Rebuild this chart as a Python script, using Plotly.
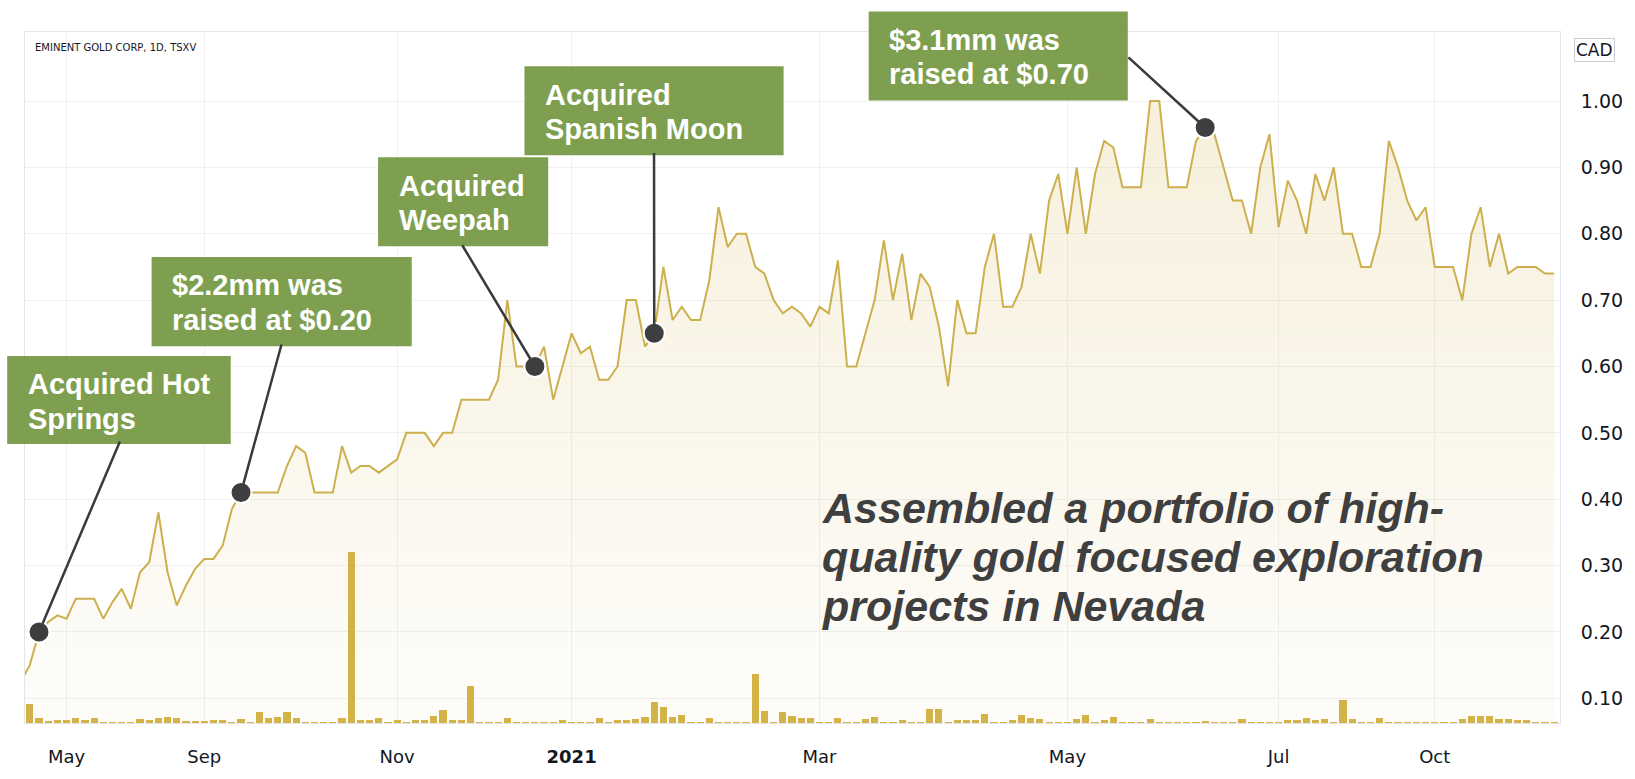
import plotly.graph_objects as go

# ---------------- data ----------------
price = [
    0.125, 0.15, 0.20, 0.215, 0.225, 0.22, 0.25, 0.25, 0.25, 0.22,
    0.245, 0.265, 0.235, 0.29, 0.305, 0.38, 0.29, 0.24, 0.27, 0.295,
    0.31, 0.31, 0.33, 0.385, 0.41, 0.41, 0.41, 0.41, 0.41, 0.45,
    0.48, 0.47, 0.41, 0.41, 0.41, 0.48, 0.44, 0.45, 0.45, 0.44,
    0.45, 0.46, 0.50, 0.50, 0.50, 0.48, 0.50, 0.50, 0.55, 0.55,
    0.55, 0.55, 0.58, 0.70, 0.60, 0.60, 0.60, 0.63, 0.55, 0.60,
    0.65, 0.62, 0.63, 0.58, 0.58, 0.60, 0.70, 0.70, 0.63, 0.65,
    0.75, 0.67, 0.69, 0.67, 0.67, 0.73, 0.84, 0.78, 0.80, 0.80,
    0.75, 0.74, 0.70, 0.68, 0.69, 0.68, 0.66, 0.69, 0.68, 0.76,
    0.60, 0.60, 0.65, 0.70, 0.79, 0.70, 0.77, 0.67, 0.74, 0.72,
    0.66, 0.57, 0.70, 0.65, 0.65, 0.75, 0.80, 0.69, 0.69, 0.72,
    0.80, 0.74, 0.85, 0.89, 0.80, 0.90, 0.80, 0.89, 0.94, 0.93,
    0.87, 0.87, 0.87, 1.00, 1.00, 0.87, 0.87, 0.87, 0.94, 0.96,
    0.95, 0.90, 0.85, 0.85, 0.80, 0.90, 0.95, 0.81, 0.88, 0.85,
    0.80, 0.89, 0.85, 0.90, 0.80, 0.80, 0.75, 0.75, 0.80, 0.94,
    0.90, 0.85, 0.82, 0.84, 0.75, 0.75, 0.75, 0.70, 0.80, 0.84,
    0.75, 0.80, 0.74, 0.75, 0.75, 0.75, 0.74, 0.74,
]

volume_k = [
    50, 190, 50, 20, 30, 30, 50, 30, 50, 10,
    10, 10, 10, 40, 30, 50, 60, 50, 15, 15,
    15, 30, 30, 10, 40, 10, 110, 50, 60, 110,
    50, 10, 10, 10, 10, 50, 1750, 30, 30, 50,
    10, 30, 10, 30, 30, 70, 130, 30, 30, 380,
    10, 10, 10, 50, 10, 10, 10, 10, 10, 30,
    10, 10, 10, 50, 10, 30, 30, 40, 60, 210,
    160, 60, 80, 10, 10, 50, 10, 10, 10, 10,
    500, 120, 10, 110, 70, 50, 50, 10, 10, 50,
    10, 10, 40, 60, 10, 10, 30, 10, 10, 140,
    140, 10, 30, 30, 30, 90, 10, 10, 30, 80,
    50, 40, 10, 10, 10, 40, 80, 10, 30, 60,
    10, 10, 10, 40, 10, 10, 10, 10, 10, 20,
    10, 10, 10, 40, 10, 10, 10, 10, 30, 30,
    50, 30, 40, 10, 240, 40, 10, 10, 50, 10,
    10, 10, 10, 10, 10, 10, 10, 40, 70, 70,
    70, 40, 40, 30, 30, 10, 10, 10,
]

tick_index = [5, 20, 41, 60, 87, 114, 137, 154]
tick_labels = ["May", "Sep", "Nov", "<b>2021</b>", "Mar", "May", "Jul", "Oct"]

price_ticks = [0.10, 0.20, 0.30, 0.40, 0.50, 0.60, 0.70, 0.80, 0.90, 1.00]

event_index = [2, 24, 56, 69, 129]
event_lines = [
    ["Acquired Hot", "Springs"],
    ["$2.2mm was", "raised at $0.20"],
    ["Acquired", "Weepah"],
    ["Acquired", "Spanish Moon"],
    ["$3.1mm was", "raised at $0.70"],
]

summary_lines = [
    "Assembled a portfolio of high-",
    "quality gold focused exploration",
    "projects in Nevada",
]

title_text = "EMINENT GOLD CORP, 1D, TSXV"

# ---------------- layout geometry (pixels) ----------------
W, H = 1635, 779
L, R, T, B = 25, 58, 32, 41
PW, PH = W - L - R, H - T - B


def px(x):
    return (x - L) / PW


def py(y):
    return (H - B - y) / PH


idx = list(range(len(price)))
LINE = "#CDB04E"
BAR = "#D4B346"
GREEN = "#7E9F4F"
DARK = "#3E3E40"
TXT = "#131722"
GRID = "#F0F0F0"

fig = go.Figure()
fig.add_trace(go.Scatter(
    x=idx, y=price, mode="lines",
    line=dict(color=LINE, width=2),
    fill="tozeroy",
    fillgradient=dict(type="vertical", start=0.06, stop=1.0,
                      colorscale=[[0, "rgba(214,186,96,0.03)"],
                                  [1, "rgba(214,186,96,0.22)"]]),
    hoverinfo="skip", showlegend=False,
))
fig.add_trace(go.Bar(
    x=idx, y=volume_k, yaxis="y2", width=0.78,
    marker=dict(color=BAR, line=dict(width=0)),
    hoverinfo="skip", showlegend=False,
))
fig.add_trace(go.Scatter(
    x=event_index, y=[price[i] for i in event_index], mode="markers",
    marker=dict(size=21, color=DARK, line=dict(color="white", width=2)),
    hoverinfo="skip", showlegend=False,
))

# boxes (pixel rectangles) and connector tails
boxes = [
    (7, 363, 233, 453),
    (153, 262, 416, 353),
    (382, 160, 554, 251),
    (530, 67, 792, 158),
    (878, 11, 1140, 102),
]
tails = [(120.7, 453), (284.3, 353), (467, 251), (661, 158), (1140, 58)]

x_lo, x_hi = 0.474, 167.64
y_lo, y_hi = 0.0628, 1.104


def data_px(i, v):
    xp = L + (i - x_lo) / (x_hi - x_lo) * PW
    yp = T + (y_hi - v) / (y_hi - y_lo) * PH
    return xp, yp


shapes = []
annotations = []
for (x0, y0, x1, y1), lines, ei, (tx, ty) in zip(boxes, event_lines, event_index, tails):
    shapes.append(dict(type="rect", xref="paper", yref="paper",
                       x0=px(x0), x1=px(x1), y0=py(y1), y1=py(y0),
                       fillcolor=GREEN, line=dict(width=0), layer="above"))
    for j, t in enumerate(lines):
        annotations.append(dict(
            xref="paper", yref="paper", x=px(x0 + 19), y=py(y0 + 29 + 35 * j),
            xanchor="left", yanchor="middle", showarrow=False, text=t,
            font=dict(family="Liberation Sans", size=29, color="white", weight="bold"),
        ))
    dx, dy = data_px(ei, price[ei])
    annotations.append(dict(
        x=ei, y=price[ei], xref="x", yref="y", text="", showarrow=True,
        arrowhead=0, arrowwidth=2.5, arrowcolor="#3A3A3C",
        ax=tx - dx, ay=ty - dy, standoff=9,
    ))

for j, t in enumerate(summary_lines):
    annotations.append(dict(
        xref="paper", yref="paper", x=px(829), y=py(518 + 50 * j),
        xanchor="left", yanchor="middle", showarrow=False,
        text="<b><i>" + t + "</i></b>",
        font=dict(family="Liberation Sans", size=43, color="#3F3F3F"),
    ))

annotations.append(dict(
    xref="paper", yref="paper", x=px(33), y=py(48), xanchor="left", yanchor="middle",
    showarrow=False, text=title_text,
    font=dict(family="DejaVu Sans", size=10, color=TXT),
))
annotations.append(dict(
    xref="paper", yref="paper", x=px(1591), y=py(50), xanchor="left", yanchor="middle",
    showarrow=False, text="CAD", bordercolor="#C8CBD3", borderwidth=1, borderpad=1,
    bgcolor="white", font=dict(family="DejaVu Sans", size=17, color=TXT),
))

fig.update_layout(
    width=W, height=H,
    margin=dict(l=L, r=R, t=T, b=B),
    paper_bgcolor="white", plot_bgcolor="white",
    showlegend=False,
    bargap=0,
    xaxis=dict(range=[x_lo, x_hi], tickmode="array", tickvals=tick_index, ticktext=tick_labels,
               showgrid=True, gridcolor=GRID, gridwidth=1, zeroline=False,
               showline=True, linecolor="#E3E5EA", linewidth=1, mirror=True,
               ticks="", ticklabelstandoff=17,
               tickfont=dict(family="DejaVu Sans", size=18, color=TXT)),
    yaxis=dict(range=[y_lo, y_hi], side="right", tickmode="array", tickvals=price_ticks,
               ticktext=["%.2f" % v for v in price_ticks],
               showgrid=True, gridcolor=GRID, gridwidth=1, zeroline=False,
               showline=True, linecolor="#E3E5EA", linewidth=1, mirror=True,
               ticks="", ticklabelstandoff=16,
               tickfont=dict(family="DejaVu Sans", size=19, color=TXT)),
    yaxis2=dict(overlaying="y", range=[0, 1750 * PH / 175], visible=False),
    shapes=shapes,
    annotations=annotations,
)

fig.write_html("out.html",
               config={"displayModeBar": False},
               post_script="document.body.style.margin='0px';document.body.style.overflow='hidden';")
